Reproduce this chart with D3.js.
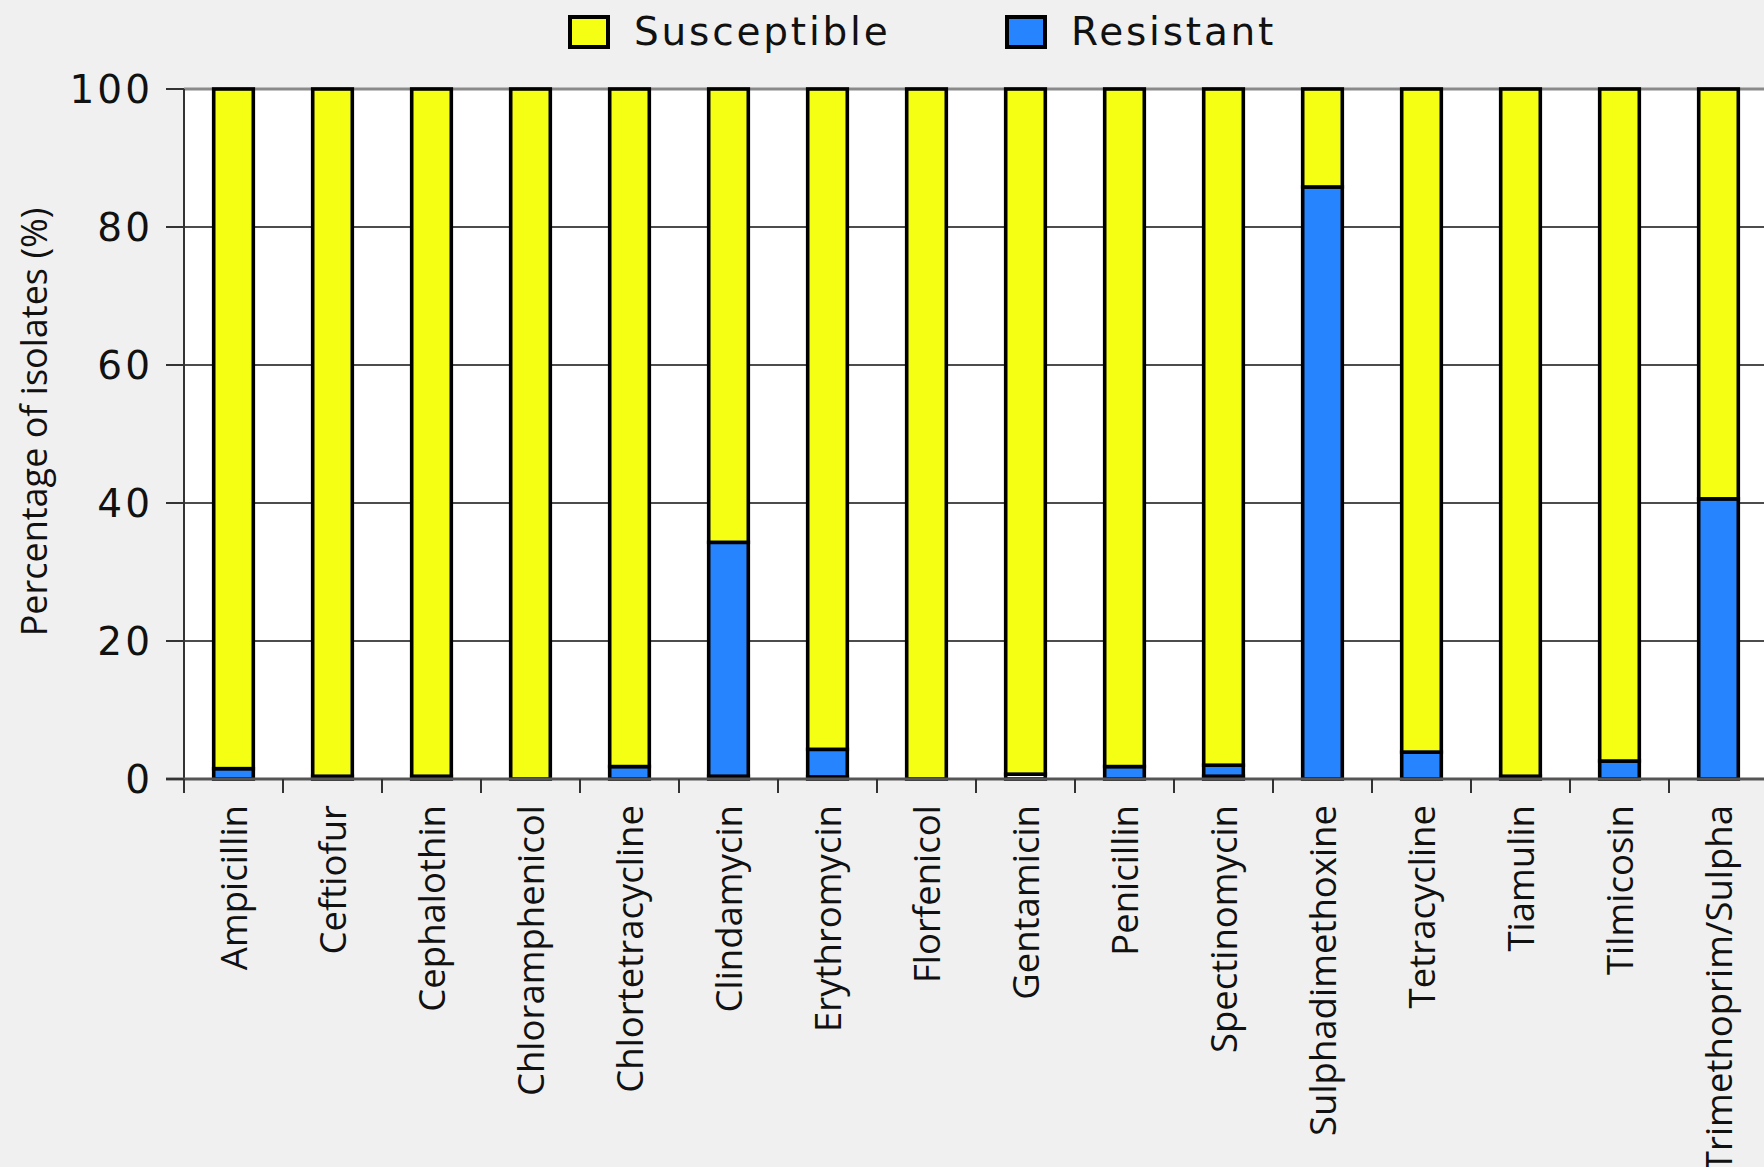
<!DOCTYPE html>
<html><head><meta charset="utf-8">
<script src="https://cdn.jsdelivr.net/npm/d3@7"></script>
<style>
html,body{margin:0;padding:0;background:#f0f0f0;}
svg{display:block;}
</style></head>
<body>
<svg id="chart" width="1764" height="1167"></svg>
<script>
const categories = ["Ampicillin","Ceftiofur","Cephalothin","Chloramphenicol","Chlortetracycline","Clindamycin","Erythromycin","Florfenicol","Gentamicin","Penicillin","Spectinomycin","Sulphadimethoxine","Tetracycline","Tiamulin","Tilmicosin","Trimethoprim/Sulpha"];
// small unlabelled bottom segment (white) visible on some bars
const other      = [0, 0.4, 0.4, 0, 0, 0.4, 0.3, 0, 0.7, 0, 0.4, 0, 0, 0.4, 0, 0];
const resistant  = [1.5, 0, 0, 0, 1.8, 33.9, 4.0, 0, 0, 1.8, 1.6, 85.8, 3.9, 0, 2.6, 40.6];
const susceptible = categories.map((c,i)=> +(100 - resistant[i] - other[i]).toFixed(1));
const yTicks = [0,20,40,60,80,100];
const seriesNames = ["Susceptible","Resistant"];
const colors = {Other:"#ffffff", Resistant:"#2684ff", Susceptible:"#f4ff14"};

const svg = d3.select("#chart");
const pL = 184, pT = 89, pB = 779, pR = 1768;

const x = d3.scaleBand().domain(categories).range([pL, pR]).paddingInner(0.6).paddingOuter(0.3);
const y = d3.scaleLinear().domain([0,100]).range([pB, pT]);
const step = x.step();

// plot background
svg.append("rect").attr("x", pL).attr("y", pT).attr("width", 1764-pL).attr("height", pB-pT).attr("fill", "#ffffff");

// gridlines
svg.append("g").selectAll("line").data(yTicks.filter(t=>t>0 && t<100)).join("line")
  .attr("x1", pL).attr("x2", 1764).attr("y1", d=>y(d)).attr("y2", d=>y(d))
  .attr("stroke", "#111").attr("stroke-width", 1.3);
svg.append("line").attr("x1", pL).attr("x2", 1764).attr("y1", y(100)).attr("y2", y(100))
  .attr("stroke", "#8a8a8a").attr("stroke-width", 3);

// stacked bars
const rows = categories.map((c,i)=>({cat:c, Other:other[i], Resistant:resistant[i], Susceptible:susceptible[i]}));
const stack = d3.stack().keys(["Other","Resistant","Susceptible"]);
const layers = stack(rows);
const g = svg.append("g");
layers.forEach(layer=>{
  g.selectAll(null).data(layer.filter(d=>d[1]-d[0]>0)).join("rect")
    .attr("x", d=>x(d.data.cat))
    .attr("width", x.bandwidth())
    .attr("y", d=>y(d[1]))
    .attr("height", d=>y(d[0])-y(d[1]))
    .attr("fill", colors[layer.key])
    .attr("stroke", "#000").attr("stroke-width", 3.6);
});

// axes
const axisG = svg.append("g");
axisG.append("line").attr("x1", pL).attr("x2", pL).attr("y1", pT).attr("y2", pB)
  .attr("stroke", "#333").attr("stroke-width", 2);
axisG.append("line").attr("x1", pL-18).attr("x2", 1764).attr("y1", pB).attr("y2", pB)
  .attr("stroke", "#555").attr("stroke-width", 3);
axisG.selectAll(".yt").data(yTicks).join("line")
  .attr("x1", pL-18).attr("x2", pL).attr("y1", d=>y(d)).attr("y2", d=>y(d))
  .attr("stroke", "#333").attr("stroke-width", 2);
axisG.selectAll(".yl").data(yTicks).join("text")
  .attr("x", pL-31).attr("y", d=>y(d)).attr("dy", "0.36em")
  .attr("text-anchor", "end")
  .attr("font-family", "'DejaVu Sans', Verdana, sans-serif").attr("font-size", 39)
  .attr("letter-spacing", 3)
  .attr("fill", "#111").text(d=>d);
// x ticks at band boundaries
axisG.selectAll(".xt").data(categories).join("line")
  .attr("x1", d=>x(d) - step*0.3).attr("x2", d=>x(d) - step*0.3)
  .attr("y1", pB).attr("y2", pB+14)
  .attr("stroke", "#333").attr("stroke-width", 2);
// x labels
axisG.selectAll(".xl").data(categories).join("text")
  .attr("transform", d=>`translate(${x(d)+x.bandwidth()/2},${pB+26}) rotate(-90)`)
  .attr("text-anchor", "end").attr("dy", "0.36em")
  .attr("font-family", "'Open Sans', sans-serif").attr("font-size", 36.5)
  .attr("fill", "#111").text(d=>d);

// y title
svg.append("text")
  .attr("transform", `translate(34,422) rotate(-90)`)
  .attr("text-anchor", "middle").attr("dy", "0.36em")
  .attr("font-family", "'Liberation Sans Narrow', 'Open Sans', sans-serif").attr("font-size", 36)
  .attr("fill", "#111").text("Percentage of isolates (%)");

// legend
const leg = svg.append("g");
const legX = [570, 1007];
seriesNames.forEach((s,i)=>{
  leg.append("rect").attr("x", legX[i]).attr("y", 17).attr("width", 38).attr("height", 30)
    .attr("fill", colors[s]).attr("stroke", "#000").attr("stroke-width", 4);
  leg.append("text").attr("x", legX[i]+64).attr("y", 31).attr("dy", "0.36em")
    .attr("font-family", "'DejaVu Sans', Verdana, sans-serif").attr("font-size", 39)
    .attr("letter-spacing", 2.8)
    .attr("fill", "#111").text(s);
});
</script>
</body></html>
